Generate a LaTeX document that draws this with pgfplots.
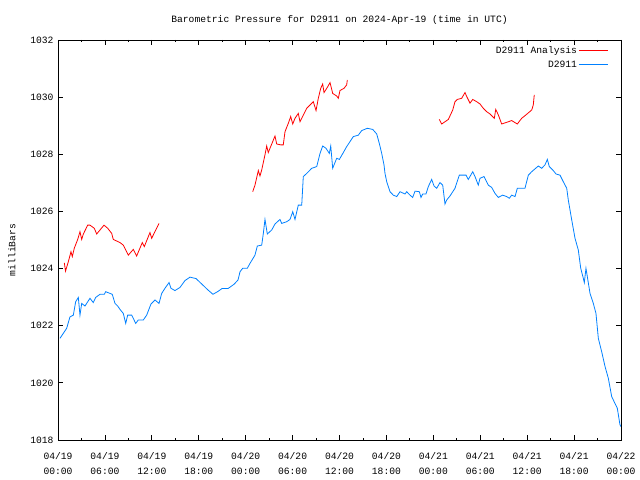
\documentclass[border=0pt]{standalone}
\usepackage{pgfplots}
\pgfplotsset{compat=1.18}
\usepackage{fontspec}
\setmainfont{Liberation Mono}
\definecolor{gred}{RGB}{255,0,0}
\definecolor{gblue}{RGB}{0,128,255}

\pgfplotstableread{
h p
0.81 1024.20
0.96 1023.91
1.32 1024.24
1.66 1024.59
1.83 1024.42
2.08 1024.71
2.52 1025.02
2.81 1025.29
3.03 1025.02
3.24 1025.21
3.80 1025.52
4.09 1025.52
4.64 1025.41
4.95 1025.21
5.88 1025.52
6.36 1025.41
6.87 1025.23
7.07 1025.02
7.93 1024.91
8.35 1024.82
8.99 1024.47
9.63 1024.67
10.06 1024.44
10.78 1024.91
11.04 1024.77
11.76 1025.26
11.98 1025.06
12.92 1025.58
18 nan
24.90 1026.69
25.19 1026.92
25.62 1027.43
25.83 1027.24
26.05 1027.45
26.47 1027.98
26.69 1028.29
26.89 1028.06
27.11 1028.21
27.75 1028.64
27.97 1028.36
28.48 1028.33
28.81 1028.33
29.03 1028.79
29.45 1029.08
29.76 1029.32
30.02 1029.06
30.31 1029.26
30.73 1029.43
30.95 1029.14
31.81 1029.61
32.65 1029.84
33.00 1029.53
33.29 1029.96
33.60 1030.31
33.85 1030.46
34.02 1030.16
34.44 1030.34
34.79 1030.51
35.13 1030.13
35.64 1030.04
35.85 1029.96
36.06 1030.23
36.58 1030.31
36.92 1030.43
37.00 1030.60
42 nan
48.76 1029.22
49.07 1029.06
49.92 1029.22
50.48 1029.55
50.77 1029.84
51.07 1029.92
51.63 1029.96
52.05 1030.16
52.27 1030.02
52.69 1029.79
53.04 1029.92
53.55 1029.84
53.97 1029.76
54.39 1029.61
54.83 1029.49
55.25 1029.41
55.80 1029.26
55.98 1029.57
56.31 1029.38
56.74 1029.06
57.29 1029.11
58.02 1029.18
58.74 1029.06
59.30 1029.26
59.85 1029.38
60.58 1029.55
60.78 1029.72
60.91 1030.08
}\analysis

\pgfplotstableread{
h p
0.26 1021.56
1.11 1021.91
1.53 1022.31
1.96 1022.37
2.26 1022.84
2.60 1022.99
2.81 1022.37
3.03 1022.78
3.45 1022.69
4.09 1022.96
4.51 1022.81
4.82 1022.99
5.37 1023.10
5.92 1023.10
6.10 1023.19
6.94 1023.10
7.29 1022.78
7.63 1022.69
7.93 1022.57
8.35 1022.43
8.66 1022.08
8.91 1022.37
9.43 1022.37
9.94 1022.08
10.27 1022.20
10.91 1022.20
11.34 1022.37
11.89 1022.76
12.41 1022.90
12.92 1022.78
13.26 1023.13
13.68 1023.31
14.20 1023.51
14.45 1023.31
14.96 1023.23
15.60 1023.34
16.24 1023.58
16.88 1023.70
17.65 1023.65
18.42 1023.45
19.18 1023.25
19.82 1023.10
20.46 1023.20
20.97 1023.30
21.74 1023.30
22.51 1023.45
23.02 1023.60
23.28 1023.89
23.62 1024.01
24.21 1024.01
24.55 1024.18
25.19 1024.47
25.49 1024.79
26.05 1024.82
26.26 1025.23
26.47 1025.72
26.77 1025.21
27.33 1025.35
27.75 1025.56
28.39 1025.72
28.61 1025.58
29.25 1025.64
29.67 1025.72
30.02 1025.99
30.31 1025.72
30.73 1026.22
31.17 1026.22
31.37 1027.22
31.81 1027.33
32.45 1027.51
33.09 1027.57
33.51 1028.03
33.85 1028.29
34.27 1028.21
34.70 1028.03
34.88 1028.29
35.13 1027.51
35.64 1027.86
35.98 1027.82
36.49 1028.06
36.92 1028.27
37.77 1028.62
38.41 1028.67
38.84 1028.83
39.56 1028.91
40.25 1028.87
40.76 1028.71
41.09 1028.38
41.40 1028.03
41.69 1027.63
41.82 1027.33
42.04 1027.04
42.46 1026.69
42.88 1026.57
43.32 1026.52
43.74 1026.69
44.38 1026.61
44.59 1026.69
45.02 1026.57
45.36 1026.49
45.66 1026.71
46.21 1026.69
46.42 1026.49
46.64 1026.61
47.06 1026.61
47.36 1026.87
47.79 1027.12
48.09 1026.89
48.43 1026.81
48.85 1027.01
49.20 1026.92
49.49 1026.26
49.71 1026.40
50.13 1026.54
50.77 1026.81
51.32 1027.27
51.63 1027.27
52.18 1027.27
52.47 1027.12
53.04 1027.39
53.33 1027.22
53.75 1026.92
53.97 1027.16
54.48 1027.22
55.03 1026.92
55.46 1026.84
55.89 1026.63
56.31 1026.49
56.87 1026.57
57.38 1026.52
57.72 1026.46
58.02 1026.57
58.45 1026.52
58.74 1026.81
59.72 1026.81
60.15 1027.27
60.58 1027.39
61.43 1027.59
61.86 1027.51
62.28 1027.63
62.58 1027.82
62.83 1027.57
63.34 1027.43
63.69 1027.31
64.20 1027.27
64.62 1027.04
65.06 1026.81
65.26 1026.40
65.70 1025.70
66.12 1025.06
66.54 1024.65
66.85 1024.01
67.18 1023.66
67.31 1023.51
67.52 1024.01
68.04 1023.13
68.46 1022.78
68.80 1022.43
69.10 1021.56
69.53 1021.09
69.96 1020.57
70.38 1020.16
70.81 1019.52
71.23 1019.28
71.53 1019.11
71.87 1018.53
72.00 1018.47
}\obs

\begin{document}
\begin{tikzpicture}[font=\fontsize{9.7}{14}\selectfont]
\path[use as bounding box] (0,0) rectangle (640bp,480bp);
\begin{axis}[
  at={(58bp,40bp)}, anchor=south west,
  width=563bp, height=400bp, scale only axis,
  xmin=0, xmax=72, ymin=1018, ymax=1032,
  axis line style={line width=0.8bp},
  every tick/.style={black, line width=0.8bp},
  major tick length=5bp, minor tick length=2.5bp,
  tick align=inside,
  xtick={0,6,...,72}, minor x tick num=1,
  xticklabels={{04/19\\00:00},{04/19\\06:00},{04/19\\12:00},{04/19\\18:00},{04/20\\00:00},{04/20\\06:00},{04/20\\12:00},{04/20\\18:00},{04/21\\00:00},{04/21\\06:00},{04/21\\12:00},{04/21\\18:00},{04/22\\00:00}},
  xticklabel style={align=center, font=\fontsize{9.7}{15}\selectfont, yshift=-9bp},
  ytick={1018,1020,...,1032},
  yticklabel style={/pgf/number format/1000 sep={}, /pgf/number format/assume math mode=true, xshift=-1bp},
  ylabel={milliBars},
  ylabel style={at={(axis description cs:-0.0817,0.475)}, anchor=center, rotate=0},
  title={Barometric Pressure for D2911 on 2024-Apr-19 (time in UTC)},
  title style={yshift=6bp},
  legend style={draw=none, fill=none, at={(1,1)}, anchor=north east, xshift=-9bp, yshift=-2bp,
    row sep=2bp, font=\fontsize{9.7}{11}\selectfont},
  legend cell align=right,
  legend plot pos=right,
  legend image code/.code={\draw[#1] (0bp,0bp) -- (29bp,0bp);},
  unbounded coords=jump,
]
\addplot[gred, line width=0.8bp] table[x=h, y=p] {\analysis};
\addlegendentry{D2911 Analysis}
\addplot[gblue, line width=0.8bp] table[x=h, y=p] {\obs};
\addlegendentry{D2911}
\end{axis}
\end{tikzpicture}
\end{document}
